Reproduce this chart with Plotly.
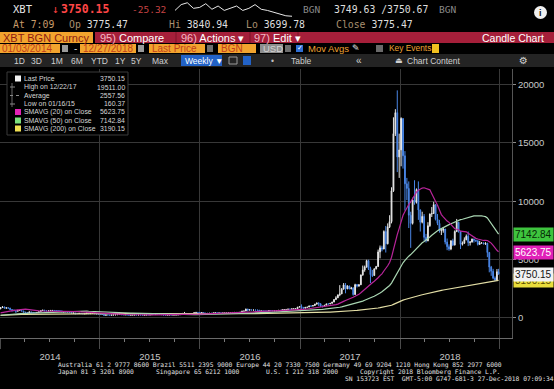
import pandas as pd
import plotly.graph_objects as go

W, H = 554, 389
MONO = "DejaVu Sans Mono"
SANS = "Liberation Sans"

# ---------------- header values ----------------
ticker = "XBT"
last_price = "3750.15"
net_change = "-25.32"
bid_ask = "3749.63 /3750.67"
quote_time = "7:09"
day_open = "3775.47"
day_high = "3840.94"
day_low = "3699.78"
prev_close = "3775.47"
spark = [3775, 3800, 3808, 3784, 3788, 3804, 3780, 3794, 3775, 3784, 3794, 3775,
         3784, 3800, 3780, 3775, 3768, 3760, 3752, 3750]

# ---------------- weekly OHLC (Fridays) ----------------
first_open = 760
closes_2013 = [13.4, 14.2, 15.7, 17.4, 20.4, 23.6, 27.1, 29.9, 34.3, 45.1, 47.1, 71.5, 90.5,
               142, 94, 119, 137, 97, 117, 124, 133, 129, 108, 100, 108, 97, 76, 92, 91, 95,
               95, 104, 99, 110, 129, 123, 129, 126, 129, 121, 125, 147, 180, 205, 290, 400,
               800, 1100, 1030, 880, 660, 730]

close_2014 = [880, 930, 830, 850, 830, 700, 650, 610, 560, 630, 630, 580, 490, 450, 420, 500, 460,
              440, 440, 450, 520, 620, 650, 600, 590, 600, 630, 630, 620, 600, 590, 590, 500, 515,
              505, 480, 475, 400, 410, 360, 360, 385, 355, 335, 345, 400, 350, 375, 375, 350, 320, 320]
high_2014 = [900, 1000, 960, 880, 880, 850, 720, 700, 640, 680, 680, 640, 600, 500, 480, 540, 520,
             470, 460, 460, 530, 630, 680, 680, 620, 610, 650, 650, 640, 630, 610, 600, 600, 530,
             525, 510, 490, 480, 430, 420, 400, 420, 400, 370, 350, 460, 460, 390, 385, 380, 360, 335]
low_2014 = [740, 850, 800, 780, 800, 650, 520, 560, 410, 540, 600, 560, 450, 350, 400, 410, 450,
            420, 420, 430, 440, 510, 600, 560, 560, 570, 590, 610, 600, 590, 580, 570, 480, 460,
            490, 470, 455, 380, 370, 290, 340, 350, 345, 325, 320, 340, 340, 345, 360, 340, 310, 310]

close_2015 = [315, 290, 210, 245, 230, 220, 235, 245, 255, 275, 285, 260, 250, 255, 235, 222, 230,
              233, 242, 237, 240, 237, 225, 232, 245, 243, 255, 285, 280, 290, 285, 280, 265, 230,
              230, 238, 240, 232, 235, 238, 245, 265, 280, 325, 375, 335, 325, 358, 362, 433, 463, 455]
high_2015 = [335, 320, 295, 260, 255, 240, 260, 255, 265, 290, 300, 290, 265, 262, 260, 240, 238,
             245, 248, 245, 245, 242, 238, 240, 250, 260, 262, 300, 295, 300, 297, 290, 285, 268,
             235, 242, 245, 242, 240, 240, 248, 268, 290, 420, 500, 390, 340, 370, 390, 460, 470, 470]
low_2015 = [300, 270, 160.37, 200, 220, 210, 215, 230, 235, 250, 270, 255, 240, 240, 230, 215, 218,
            225, 228, 230, 232, 233, 220, 222, 228, 235, 240, 252, 270, 275, 280, 275, 255, 200,
            220, 225, 232, 225, 230, 232, 235, 242, 260, 275, 310, 300, 310, 318, 355, 360, 425, 440]

close_2016 = [433, 450, 385, 385, 380, 386, 384, 420, 432, 410, 418, 410, 417, 417, 420, 429, 448,
              455, 460, 455, 442, 475, 570, 580, 750, 665, 680, 660, 665, 660, 655, 575, 587, 580,
              578, 575, 625, 608, 602, 608, 617, 638, 633, 690, 703, 715, 750, 740, 765, 775, 785,
              915, 965]
high_2016 = [460, 465, 455, 400, 390, 395, 395, 425, 440, 440, 425, 420, 420, 425, 425, 432, 452,
             462, 465, 462, 458, 480, 590, 600, 780, 770, 705, 680, 675, 670, 665, 660, 600, 595,
             590, 585, 630, 630, 612, 612, 620, 640, 660, 720, 740, 720, 760, 755, 770, 780, 795,
             930, 980]
low_2016 = [420, 425, 370, 370, 365, 370, 375, 380, 410, 405, 405, 405, 405, 412, 414, 418, 425,
            445, 450, 450, 435, 440, 470, 540, 570, 550, 640, 640, 645, 650, 640, 540, 560, 570,
            570, 565, 570, 600, 595, 595, 605, 615, 625, 630, 680, 690, 705, 725, 735, 755, 765,
            780, 880]

close_2017 = [895, 820, 895, 920, 1015, 1000, 1050, 1170, 1270, 1200, 980, 970, 1080, 1190, 1180,
              1240, 1350, 1560, 1710, 1960, 2050, 2450, 2820, 2480, 2730, 2480, 2560, 1990, 2840,
              2730, 2830, 3680, 4100, 4350, 4900, 4230, 3700, 3630, 4200, 4400, 5650, 6000, 5900,
              7400, 6350, 7800, 8250, 10900, 15800, 17600, 13800, 14400]
high_2017 = [1150, 910, 905, 925, 1020, 1060, 1060, 1190, 1290, 1330, 1250, 1060, 1090, 1200, 1220,
             1250, 1360, 1600, 1850, 2000, 2800, 2550, 2980, 2980, 2790, 2750, 2650, 2620, 2920,
             2900, 2880, 3700, 4480, 4480, 4980, 4980, 4380, 4100, 4230, 4450, 5850, 6200, 6180,
             7500, 7880, 8100, 8800, 11200, 17200, 17900, 19511, 15800]
low_2017 = [760, 750, 800, 880, 910, 940, 980, 1040, 1150, 1000, 950, 890, 960, 1070, 1160, 1175,
            1230, 1340, 1550, 1700, 1850, 2030, 2440, 2100, 2460, 2450, 2450, 1900, 1980, 2600,
            2650, 2820, 3600, 3950, 4300, 4100, 2980, 3500, 3600, 4150, 4380, 5100, 5700, 5880,
            5600, 6300, 7700, 8100, 10800, 15600, 12500, 12000]

close_2018 = [17100, 13900, 11500, 11100, 8800, 8100, 10100, 9900, 11000, 9250, 8200, 8700, 6900,
              6600, 7900, 8900, 8950, 9700, 8450, 8100, 7450, 7500, 7620, 6500, 6100, 5900, 6600,
              6250, 7400, 8200, 7400, 6300, 6400, 6700, 7000, 6450, 6500, 6750, 6650, 6600, 6300,
              6410, 6420, 6350, 6400, 5600, 4350, 4000, 3400, 3250, 3950, 3750.15]
high_2018 = [17200, 17100, 14300, 12000, 11700, 9100, 10300, 11800, 11100, 11700, 9300, 9100, 8900,
             7200, 8200, 8950, 9500, 9950, 9750, 8900, 8400, 7700, 7780, 7620, 6800, 6300, 6650,
             6780, 7500, 8480, 8220, 7150, 6550, 6900, 7150, 7400, 6580, 6800, 6800, 6700, 6650,
             6600, 6500, 6450, 6480, 6420, 5650, 4450, 4200, 3550, 4180, 4200]
low_2018 = [13000, 12800, 9200, 10100, 7700, 6000, 8000, 9700, 9800, 8400, 7400, 8100, 6600, 6450,
            6570, 7800, 8650, 8900, 8350, 7950, 7300, 7100, 7300, 6300, 5800, 5750, 5800, 6150,
            6200, 7350, 7300, 5900, 6200, 6350, 6650, 6150, 6200, 6450, 6450, 6500, 6200, 6250,
            6380, 6300, 6250, 5200, 3900, 3600, 3300, 3150, 3200, 3700]

legend_labels = ["Last Price", "High on 12/22/17", "Average", "Low on 01/16/15",
                 "SMAVG (20) on Close", "SMAVG (50) on Close", "SMAVG (200) on Close"]
legend_values = ["3750.15", "19511.00", "2557.56", "160.37", "5623.75", "7142.84", "3190.15"]
sma_windows = [20, 50, 200]
sma_colors = ["#b8249a", "#a9d6b2", "#e4dfa6"]
sma_key_colors = ["#e222b6", "#7ce07c", "#f0e052"]
sma_last = [5623.75, 7142.84, 3190.15]

footer_lines = [
    "Australia 61 2 9777 8600 Brazil 5511 2395 9000 Europe 44 20 7330 7500 Germany 49 69 9204 1210 Hong Kong 852 2977 6000",
]
footer_row2 = [("Japan 81 3 3201 8900", 57), ("Singapore 65 6212 1000", 155),
               ("U.S. 1 212 318 2000", 265), ("Copyright 2018 Bloomberg Finance L.P.", 359)]
footer_row3 = "SN 153723 EST  GMT-5:00 G747-681-3 27-Dec-2018 07:09:34"

# ---------------- series assembly ----------------
dates = list(pd.date_range("2014-01-03", "2018-12-21", freq="W-FRI")) + [pd.Timestamp("2018-12-27")]
close = close_2014 + close_2015 + close_2016 + close_2017 + close_2018
high = high_2014 + high_2015 + high_2016 + high_2017 + high_2018
low = low_2014 + low_2015 + low_2016 + low_2017 + low_2018
opens = [first_open] + close[:-1]

all_close = pd.Series(closes_2013 + close)
n_pre = len(closes_2013)
smas = [all_close.rolling(w, min_periods=1).mean().iloc[n_pre:].tolist() for w in sma_windows]

UP = "#e6e6e6"
DN = "#4a86e6"
GRID = "#383838"

fig = go.Figure()
fig.add_trace(go.Candlestick(
    x=dates, open=opens, high=high, low=low, close=close,
    increasing=dict(line=dict(color=UP, width=1), fillcolor=UP),
    decreasing=dict(line=dict(color=DN, width=1), fillcolor=DN),
    whiskerwidth=0, showlegend=False, hoverinfo="skip"))
for vals, col in zip(smas[::-1], sma_colors[::-1]):
    fig.add_trace(go.Scatter(x=dates, y=vals, mode="lines", line=dict(color=col, width=1.2),
                             showlegend=False, hoverinfo="skip"))
fig.add_trace(go.Scatter(x=list(range(len(spark))), y=spark, mode="lines", xaxis="x2", yaxis="y2",
                         line=dict(color="#e8e8e8", width=1), showlegend=False, hoverinfo="skip"))

shapes, anns = [], []


def rect(x0, y0, x1, y1, fill, line=None, lw=1):
    shapes.append(dict(type="rect", xref="paper", yref="paper", x0=x0 / W, x1=x1 / W,
                       y0=1 - y1 / H, y1=1 - y0 / H, fillcolor=fill, layer="above",
                       line=dict(width=0) if line is None else dict(color=line, width=lw)))


def hline(x0, x1, y, color, dash="solid"):
    shapes.append(dict(type="line", xref="paper", yref="paper", x0=x0 / W, x1=x1 / W,
                       y0=1 - y / H, y1=1 - y / H, layer="above", line=dict(color=color, width=1, dash=dash)))


def vline(x, y0, y1, color):
    shapes.append(dict(type="line", xref="paper", yref="paper", x0=x / W, x1=x / W,
                       y0=1 - y0 / H, y1=1 - y1 / H, layer="above", line=dict(color=color, width=1)))


def txt(x, y, s, color, size, family=SANS, xanchor="left"):
    anns.append(dict(x=x / W, y=1 - y / H, xref="paper", yref="paper", text=s, showarrow=False,
                     xanchor=xanchor, yanchor="middle", borderpad=0,
                     font=dict(family=family, size=size, color=color)))


# ---- row 1
txt(12, 9.5, ticker, "#e6e6e6", 10.5, MONO)
txt(51, 9.5, "\u2193", "#ff4040", 11, MONO)
txt(60, 9.5, "<b>" + last_price + "</b>", "#ff4646", 11.5, MONO)
txt(131, 9.5, net_change, "#c84444", 9.5, MONO)
txt(302, 9.5, "BGN", "#8a8a8a", 9.5, MONO)
txt(333, 9.5, bid_ask, "#dedede", 9.8, MONO)
txt(438, 9.5, "BGN", "#8a8a8a", 9.5, MONO)
shapes.append(dict(type="circle", xref="paper", yref="paper", x0=534 / W, x1=547 / W,
                   y0=1 - 19 / H, y1=1 - 6 / H, fillcolor="#f0f0f0", line=dict(width=0), layer="above"))
txt(540.5, 12.5, "<b>i</b>", "#111111", 9, SANS, "center")

# ---- row 2
LBL = "#a99070"
VAL = "#dedede"
txt(12, 24.5, "At " + quote_time, "#c89c6a", 9.8, MONO)
txt(68, 24.5, f"<span style='color:{LBL}'>Op</span> {day_open}", VAL, 9.8, MONO)
txt(168, 24.5, f"<span style='color:{LBL}'>Hi</span> {day_high}", VAL, 9.8, MONO)
txt(245, 24.5, f"<span style='color:{LBL}'>Lo</span> {day_low}", VAL, 9.8, MONO)
txt(335, 24.5, f"<span style='color:{LBL}'>Close</span> {prev_close}", VAL, 9.8, MONO)

# ---- row 3
ORANGE = "#f2a42e"
rect(0, 32, 93, 43, ORANGE)
rect(95, 32, 554, 43, "#a51f3a")
for sx in (176, 250, 298):
    vline(sx, 32, 43, "#7c1428")
txt(2, 37.5, "XBT BGN Curncy", "#8e1b12", 11)
txt(99, 37.5, "<span style='color:#f4b9c4'>95)</span> Compare", "#ffffff", 11)
txt(180, 37.5, "<span style='color:#f4b9c4'>96)</span> Actions \u25be", "#ffffff", 11)
txt(253, 37.5, "<span style='color:#f4b9c4'>97)</span> Edit \u25be", "#ffffff", 11)
txt(545, 37.5, "Candle Chart", "#ffffff", 10.5, SANS, "right")

# ---- row 4
FTXT = "#c23f1c"
rect(0, 44, 60, 53, ORANGE); txt(1, 48.5, "01/03/2014", FTXT, 10)
rect(62, 45, 68, 52, "#9a9a9a")
txt(73, 48.5, "-", "#d0d0d0", 10)
rect(80, 44, 136, 53, ORANGE); txt(82, 48.5, "12/27/2018", FTXT, 10)
rect(138, 45, 144, 52, "#9a9a9a")
rect(149, 44, 205, 53, ORANGE); txt(151, 48.5, "Last Price", FTXT, 10)
rect(207, 45, 213, 52, "#6e6e6e")
rect(218, 44, 256, 53, ORANGE); txt(220, 48.5, "BGN", FTXT, 10)
rect(260, 44, 283, 53, "#8e8e8e"); txt(262, 48.5, "USD", "#d4d4d4", 9.5)
rect(285, 45, 291, 52, "#6e6e6e")
rect(296, 45, 303, 52, "#2f6fd4"); txt(299.5, 48.5, "\u2713", "#ffffff", 7, "DejaVu Sans", "center")
txt(307, 48.5, "Mov Avgs", "#eea232", 9.5)
txt(351, 48.5, "\u270e", "#e6e6e6", 9, "DejaVu Sans")
rect(376, 45, 383, 52, "#6a6a6a")
txt(388, 48.5, "Key Events", "#eea232", 8.4)
rect(432, 44, 439, 53, "#f0c020")

# ---- row 5
rect(0, 54, 554, 67, "#242424")
for lab, xx in [("1D", 13), ("3D", 30), ("1M", 50), ("6M", 70), ("YTD", 90), ("1Y", 114),
                ("5Y", 130), ("Max", 151)]:
    txt(xx, 60.5, lab, "#d0d0d0", 8.5)
rect(181, 55, 222, 66, "#2262c6"); txt(184, 60.5, "Weekly \u25bc", "#ffffff", 8.5)
rect(229, 57, 237, 64, "rgba(0,0,0,0)", "#9a9a9a")
rect(243, 56, 251, 65, "#2262c6")
txt(270, 60.5, "\u2022", "#c0c0c0", 8.5)
txt(290, 60.5, "Table", "#d0d0d0", 8.5)
txt(355, 60.5, "\u00ab", "#d0d0d0", 10)
txt(394, 60.5, "\u23cf", "#d0d0d0", 8, "DejaVu Sans")
txt(406, 60.5, "Chart Content", "#d0d0d0", 8.5)
txt(518, 60.5, "\u2699", "#d0d0d0", 10, "DejaVu Sans")

# ---- legend box
rect(7, 72, 128, 135, "#000000", "#3a3a3a")
ly = [78.5, 87, 95.5, 104, 112, 120.5, 128.5]
rect(15, ly[0] - 3, 21, ly[0] + 3, "#f2f2f2")
vline(12, 83, 107, "#6a6a6a")
hline(10, 15, ly[1], "#8a8a8a")
hline(10, 20, ly[2], "#8a8a8a", "dot")
hline(10, 15, ly[3], "#8a8a8a")
for i, col in enumerate(sma_key_colors):
    rect(15, ly[4 + i] - 3, 21, ly[4 + i] + 3, col)
for y, lab, val in zip(ly, legend_labels, legend_values):
    txt(23, y, lab, "#d6d6d6", 6.9)
    txt(126, y, val, "#d6d6d6", 6.9, SANS, "right")

# ---- price tags on the right axis
tag_specs = [(sma_last[2], "#e8dc3c", "#5a5000"), (float(last_price), "#f2f2f2", "#111111"),
             (sma_last[1], "#3ec43e", "#062806"), (sma_last[0], "#e020b8", "#ffffff")]
for val, bg, fg in tag_specs:
    anns.append(dict(x=513 / W, y=val, xref="paper", yref="y", text=f"{val:.2f}", showarrow=False,
                     xanchor="left", yanchor="middle", bgcolor=bg, borderpad=1,
                     font=dict(family=SANS, size=10, color=fg)))

# ---- footer
txt(57, 364.5, footer_lines[0], "#e2e2e2", 6.3, MONO)
for s, xx in footer_row2:
    txt(xx, 371.5, s, "#e2e2e2", 6.3, MONO)
txt(344, 378.5, footer_row3, "#e2e2e2", 6.3, MONO)

fig.update_layout(
    template="none", width=W, height=H, autosize=False,
    margin=dict(l=0, r=0, t=0, b=0, pad=0),
    paper_bgcolor="#000000", plot_bgcolor="#000000",
    showlegend=False, shapes=shapes, annotations=anns,
    xaxis=dict(domain=[0, 512 / W], range=["2014-01-01", "2019-02-14"], type="date",
               showgrid=True, gridcolor=GRID, gridwidth=1, dtick="M12", tick0="2014-01-01",
               tickformat="%Y", ticklabelmode="period", ticks="outside", ticklen=10,
               tickcolor="#4a4a4a", tickfont=dict(family=SANS, size=9.5, color="#c8c8c8"),
               showline=True, linecolor="#6a6a6a", linewidth=1, zeroline=False,
               minor=dict(dtick="M3", ticks="outside", ticklen=3, tickcolor="#7a7a7a", showgrid=False),
               rangeslider=dict(visible=False), automargin=False, fixedrange=True),
    yaxis=dict(domain=[1 - 338 / H, 1 - 69 / H], range=[-1735, 21346], side="right",
               tick0=0, dtick=5000, tickformat="d", showgrid=True, gridcolor=GRID,
               ticks="outside", ticklen=3, tickcolor="#8a8a8a",
               tickfont=dict(family=SANS, size=9.5, color="#c8c8c8"),
               showline=True, linecolor="#555555", zeroline=False, automargin=False,
               fixedrange=True),
    xaxis2=dict(domain=[175 / W, 292 / W], anchor="y2", visible=False, fixedrange=True),
    yaxis2=dict(domain=[1 - 17 / H, 1 - 2 / H], anchor="x2", visible=False, fixedrange=True),
)

fig.write_html("out.html", config={"displayModeBar": False},
               post_script="document.body.style.margin='0';document.body.style.padding='0';"
                           "document.body.style.overflow='hidden';"
                           "document.documentElement.style.overflow='hidden';")
